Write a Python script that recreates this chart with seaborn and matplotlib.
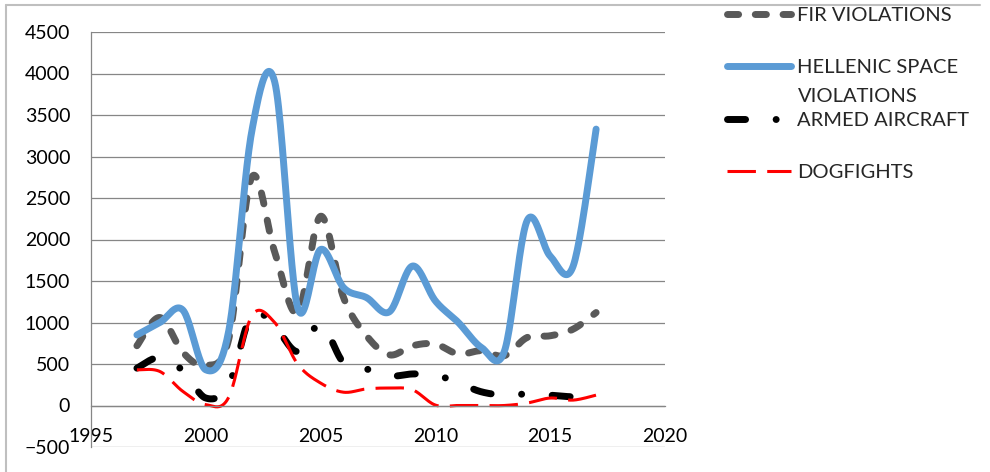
import numpy as np
import pandas as pd
import matplotlib
matplotlib.use("Agg")
import matplotlib.pyplot as plt
import seaborn as sns
from matplotlib.lines import Line2D

years = [1997, 1998, 1999, 2000, 2001, 2002, 2003, 2004, 2005, 2006, 2007,
         2008, 2009, 2010, 2011, 2012, 2013, 2014, 2015, 2016, 2017]
fir_violations = [720, 1060, 640, 480, 800, 2750, 1850, 1120, 2280, 1300, 840,
                  610, 720, 740, 620, 660, 600, 820, 840, 920, 1120]
hellenic_space = [850, 1000, 1150, 430, 900, 3300, 3900, 1180, 1880, 1420, 1300,
                  1130, 1680, 1260, 1000, 700, 650, 2230, 1800, 1680, 3330]
armed_aircraft = [450, 580, 420, 90, 250, 1100, 950, 650, 980, 515, 440,
                  355, 380, 370, 270, 165, 125, 140, 125, 105, 120]
dogfights = [430, 410, 170, 10, 100, 1080, 1000, 500, 270, 160, 200,
             210, 190, 5, 0, 0, 0, 30, 90, 65, 125]

series_names = ["FIR VIOLATIONS", "HELLENIC SPACE", "ARMED AIRCRAFT", "DOGFIGHTS"]
x_ticks = [1995, 2000, 2005, 2010, 2015, 2020]
y_ticks = [-500, 0, 500, 1000, 1500, 2000, 2500, 3000, 3500, 4000, 4500]

GRID = "#868686"
FONT = ["Lato", "DejaVu Sans"]


def smooth(x, y, n=24):
    # excel-style smoothed line: bezier segments with catmull-rom handles
    x = np.asarray(x, float)
    y = np.asarray(y, float)
    px = np.concatenate([[x[0]], x, [x[-1]]])
    py = np.concatenate([[y[0]], y, [y[-1]]])
    t = np.linspace(0, 1, n, endpoint=False)[:, None]
    xs, ys = [], []
    for i in range(1, len(px) - 2):
        p0 = np.array([px[i], py[i]])
        p3 = np.array([px[i + 1], py[i + 1]])
        p1 = p0 + (p3 - np.array([px[i - 1], py[i - 1]])) / 6
        p2 = p3 - (np.array([px[i + 2], py[i + 2]]) - p0) / 6
        pts = ((1 - t) ** 3) * p0 + 3 * ((1 - t) ** 2) * t * p1 + 3 * (1 - t) * t ** 2 * p2 + t ** 3 * p3
        xs.append(pts[:, 0])
        ys.append(pts[:, 1])
    xs.append([x[-1]])
    ys.append([y[-1]])
    return np.concatenate(xs), np.concatenate(ys)


sns.set_style("white")
plt.rcParams["font.family"] = FONT

fig = plt.figure(figsize=(9.9, 4.72), dpi=100)
ax = fig.add_axes([91 / 990, 1 - 447 / 472, (665 - 91) / 990, (447 - 32) / 472])

styles = [
    dict(color="#595959", lw=5.0, dashes=(1.6, 2.4), cap="round"),
    dict(color="#5B9BD5", lw=5.0, dashes=None, cap="round"),
    dict(color="#000000", lw=5.0, dashes=(2.6, 4.4, 0.01, 4.4), cap="round"),
    dict(color="#FF0000", lw=2.2, dashes=(9.3, 3.7), cap="butt"),
]
values = [fir_violations, hellenic_space, armed_aircraft, dogfights]

handles = []
for name, vals, st in zip(series_names, values, styles):
    sx, sy = smooth(years, vals)
    df = pd.DataFrame({"year": sx, "value": sy})
    sns.lineplot(data=df, x="year", y="value", ax=ax, color=st["color"],
                 linewidth=st["lw"], estimator=None, sort=False, errorbar=None)
    line = ax.lines[-1]
    line.set_solid_capstyle("round")
    line.set_solid_joinstyle("round")
    if st["dashes"]:
        line.set_dashes(st["dashes"])
        line.set_dash_capstyle(st["cap"])
    handles.append(Line2D([], [], color=st["color"], lw=st["lw"],
                          linestyle=(0, st["dashes"]) if st["dashes"] else "-",
                          dash_capstyle=st["cap"], solid_capstyle="round"))

ax.set_xlim(1995, 2020)
ax.set_ylim(-500, 4500)
ax.set_xticks(x_ticks)
ax.set_yticks(y_ticks)
ax.set_xlabel("")
ax.set_ylabel("")
ax.yaxis.grid(True, color=GRID, lw=0.9)
ax.xaxis.grid(False)
for s in ["top", "right"]:
    ax.spines[s].set_visible(False)
ax.spines["left"].set_color(GRID)
ax.spines["left"].set_linewidth(0.9)
ax.spines["bottom"].set_position(("data", 0))
ax.spines["bottom"].set_color(GRID)
ax.spines["bottom"].set_linewidth(0.9)
ax.tick_params(axis="both", colors=GRID, labelcolor="black", labelsize=14,
               direction="out", length=5, width=0.9)
ax.tick_params(axis="x", pad=11.5)
ax.tick_params(axis="y", pad=10)

leg = ax.legend(handles, series_names, loc="upper left",
                bbox_to_anchor=(727 / 990, 1 - 7 / 472), bbox_transform=fig.transFigure,
                frameon=False, fontsize=14.5, handlelength=3.2, handletextpad=0.3,
                labelspacing=1.75, borderpad=0, borderaxespad=0)
fig.text(798 / 990, 1 - 96 / 472, "VIOLATIONS", fontsize=14.5, va="center", ha="left")

# chart area frame (only top and left edges visible in the original)
fig.add_artist(Line2D([6 / 990, 980 / 990], [1 - 5 / 472, 1 - 5 / 472],
                      transform=fig.transFigure, color="#BFBFBF", lw=1.5))
fig.add_artist(Line2D([6 / 990, 6 / 990], [1 - 5 / 472, 0],
                      transform=fig.transFigure, color="#BFBFBF", lw=1.5))

fig.savefig("out.png", dpi=100)
